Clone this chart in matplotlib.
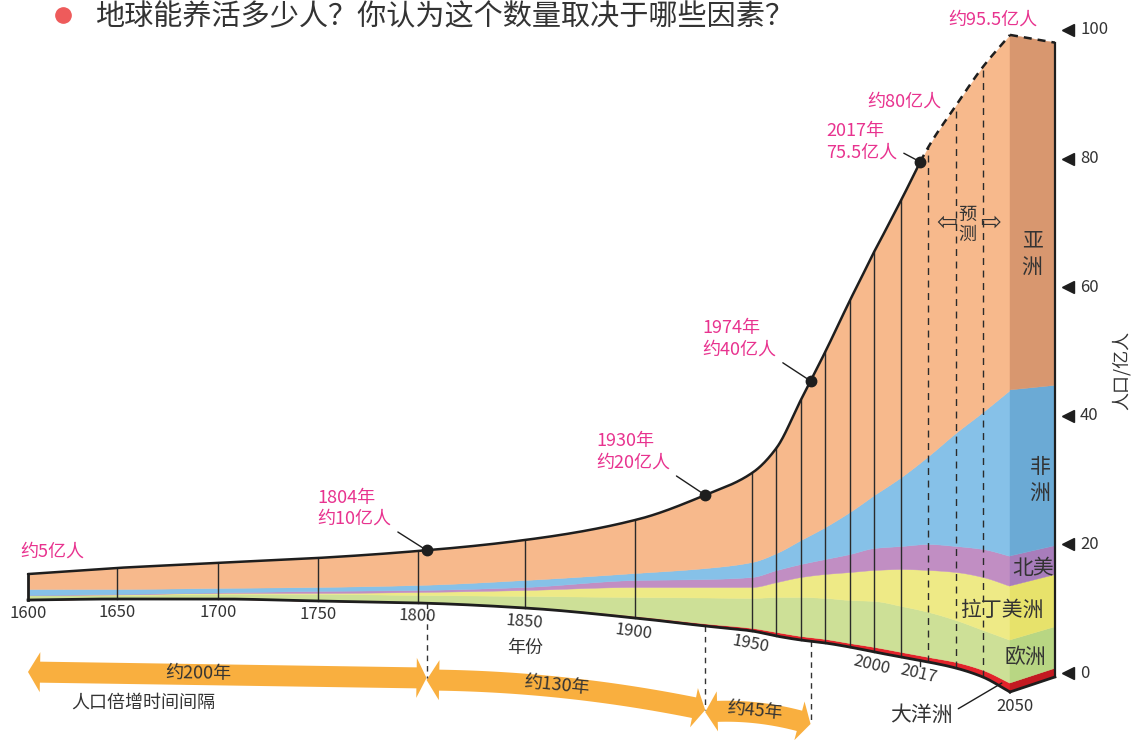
import numpy as np
import matplotlib
matplotlib.use("Agg")
import matplotlib.pyplot as plt
from matplotlib.patches import Polygon

plt.rcParams['font.family'] = ['Noto Sans CJK SC', 'DejaVu Sans']

# ---------------- data (axis units = 亿人) ----------------
years = [1600, 1650, 1700, 1750, 1800, 1850, 1900, 1930, 1950, 1960, 1970,
         1980, 1990, 2000, 2010, 2020, 2030, 2040, 2050]
# perspective baseline of the drawing (bottom edge of the stack)
baseline = [11.35, 11.51, 11.51, 11.20, 10.89, 10.11, 8.55, 7.31, 6.53, 5.75, 5.13,
            4.67, 4.04, 3.27, 2.49, 1.71, 0.78, -0.62, -2.95]
oceania = [0, 0, 0, 0, 0, 0.16, 0.31, 0.39, 0.47, 0.62, 0.62,
           0.62, 0.62, 0.78, 0.78, 0.78, 0.93, 1.09, 1.40]
europe = [0.78, 0.62, 0.78, 1.09, 1.24, 1.71, 2.95, 4.04, 4.67, 5.44, 6.07,
          6.38, 6.69, 7.15, 7.15, 7.00, 6.53, 6.22, 6.69]
latam = [0.0, 0.08, 0.16, 0.16, 0.47, 0.93, 1.56, 1.63, 1.71, 2.33, 3.11,
         3.73, 4.35, 4.82, 5.75, 6.53, 7.47, 8.24, 8.40]
namerica = [0.0, 0.08, 0.08, 0.31, 0.31, 0.47, 1.09, 1.24, 1.56, 1.87, 2.02,
            2.33, 2.80, 3.42, 3.58, 4.04, 4.04, 4.35, 4.67]
africa = [0.93, 0.78, 0.70, 0.62, 0.78, 1.09, 1.09, 1.71, 2.33, 2.64, 3.73,
          4.98, 6.53, 8.24, 10.73, 13.69, 17.57, 21.31, 25.82]
asia = [2.33, 3.27, 3.89, 4.51, 5.29, 6.22, 8.24, 11.35, 13.84, 16.33, 21.77,
        27.22, 32.81, 37.79, 43.08, 48.06, 50.86, 53.65, 55.21]

region_names = ['大洋洲', '欧洲', '拉丁美洲', '北美', '非洲', '亚洲']   # bottom -> top
tick_years = [1600, 1650, 1700, 1750, 1800, 1850, 1900, 1950, 2000, 2017]
grid_years = [1650, 1700, 1750, 1800, 1850, 1900, 1950, 1960, 1970, 1980, 1990, 2000, 2010]
forecast_years = [2020, 2030, 2040]
milestone_years = [1804, 1930, 1974, 2017]
milestone_labels = ['1804年\n约10亿人', '1930年\n约20亿人', '1974年\n约40亿人', '2017年\n75.5亿人']
doubling_spans = [(1600, 1804), (1804, 1930), (1930, 1974)]
doubling_labels = ['约200年', '约130年', '约45年']
yticks = [0, 20, 40, 60, 80, 100]
title = '地球能养活多少人？你认为这个数量取决于哪些因素？'

# ---------------- styles ----------------
front_cols = ['#E3232B', '#CDE097', '#EEEA86', '#C18EC3', '#86C1E8', '#F7B98C']
side_cols = ['#C31A21', '#B8D683', '#E7E26B', '#A87DBB', '#6BAAD5', '#D8976F']
PINK = '#E8338F'
DARK = '#333333'
ORANGE = '#F9AF3F'

# nonlinear year axis of the illustration
YR_BP = np.array([1300, 1600, 1650, 1700, 1750, 1800, 1850, 1900, 1950, 2000, 2050, 2300], float)
PX_BP = np.array([-506, 28, 117, 218, 318, 418, 525, 635, 752, 874, 1010, 1690], float)


def fwd(x):
    return np.interp(x, YR_BP, PX_BP)


def inv(p):
    return np.interp(p, PX_BP, YR_BP)


U, Y0 = 6.43, 673.0          # px per unit, pixel row of value 0
SIDE_D = 16.5                # depth of the 3D end face (in axis years)
SIDE_A, SIDE_B = 2.23, 0.9654


def pchip(x, y, xn):
    x = np.asarray(x, float)
    y = np.asarray(y, float)
    h = np.diff(x)
    d = np.diff(y) / h
    m = np.zeros_like(y)
    for k in range(1, len(x) - 1):
        if d[k - 1] * d[k] > 0:
            w1 = 2 * h[k] + h[k - 1]
            w2 = h[k] + 2 * h[k - 1]
            m[k] = (w1 + w2) / (w1 / d[k - 1] + w2 / d[k])
    m[0], m[-1] = d[0], d[-1]
    idx = np.clip(np.searchsorted(x, xn) - 1, 0, len(h) - 1)
    t = (xn - x[idx]) / h[idx]
    h00 = 2 * t**3 - 3 * t**2 + 1
    h10 = t**3 - 2 * t**2 + t
    h01 = -2 * t**3 + 3 * t**2
    h11 = t**3 - t**2
    return h00 * y[idx] + h10 * h[idx] * m[idx] + h01 * y[idx + 1] + h11 * h[idx] * m[idx + 1]


fig = plt.figure(figsize=(11.33, 7.40), dpi=100)
ax = fig.add_axes([0, 0, 1, 1])
ax.set_xscale('function', functions=(fwd, inv))
ax.set_xlim(inv(0.0), inv(1133.0))
ax.set_ylim((Y0 - 740) / U, Y0 / U)
ax.axis('off')

# ---------------- stacked front face ----------------
yg = np.linspace(years[0], years[-1], 1201)
layers = [oceania, europe, latam, namerica, africa, asia]
cum_knots = np.vstack([np.array(baseline)] +
                      [np.array(baseline) + np.sum(layers[:i + 1], axis=0) for i in range(len(layers))])
bounds = [pchip(years, row, yg) for row in cum_knots]
for i in range(1, len(bounds)):
    bounds[i] = np.maximum(bounds[i], bounds[i - 1])
base_line = bounds[0]
top_line = bounds[-1]
for i, c in enumerate(front_cols):
    ax.fill_between(yg, bounds[i], bounds[i + 1], facecolor=c, edgecolor=c, lw=0.3, zorder=1)


def at(arr, yr):
    return float(np.interp(yr, yg, arr))


# ---------------- 3D end face ----------------
x_end = years[-1]
x_side = x_end + SIDE_D
cum = cum_knots[:, -1]
for i, c in enumerate(side_cols):
    l, h = cum[i], cum[i + 1]
    poly = Polygon([(x_end, l), (x_side, SIDE_A + SIDE_B * l),
                    (x_side, SIDE_A + SIDE_B * h), (x_end, h)],
                   closed=True, fc=c, ec=c, lw=0.3, zorder=1)
    ax.add_patch(poly)

# outline
m = yg <= 2017
ax.plot(yg[m], top_line[m], color='#1E1E1E', lw=1.8, zorder=3, solid_capstyle='round')
mf = yg >= 2016.9
ax.plot(yg[mf], top_line[mf], color='#1E1E1E', lw=1.8, dashes=(3.2, 2.4), zorder=3)
ax.plot([x_end, x_side], [cum[-1], SIDE_A + SIDE_B * cum[-1]], color='#1E1E1E', lw=1.8,
        dashes=(3.2, 2.4), zorder=3)
ax.plot(yg, base_line, color='#1E1E1E', lw=2.0, zorder=3)
ax.plot([x_end, x_side], [cum[0], SIDE_A + SIDE_B * cum[0]], color='#1E1E1E', lw=2.0, zorder=3)
ax.plot([x_side, x_side], [SIDE_A + SIDE_B * cum[0], SIDE_A + SIDE_B * cum[-1]],
        color='#1E1E1E', lw=1.6, zorder=3)
ax.plot([years[0], years[0]], [baseline[0], top_line[0]], color='#1E1E1E', lw=2.0, zorder=3)

# vertical grid lines
for yr in grid_years:
    ax.plot([yr, yr], [at(base_line, yr), at(top_line, yr)], color='#2A2A2A', lw=1.0, zorder=2)
for yr in forecast_years:
    ax.plot([yr, yr], [at(base_line, yr), at(top_line, yr)], color='#2A2A2A', lw=1.0,
            dashes=(5, 4), zorder=2)
ax.plot([2017, 2017], [at(base_line, 2017), at(base_line, 2017) - 0.9], color='#2A2A2A', lw=1.0, zorder=2)

# ---------------- x tick labels along the curved base ----------------
def base_angle(yr):
    p0 = ax.transData.transform((yr - 2, at(base_line, yr - 2)))
    p1 = ax.transData.transform((yr + 2, at(base_line, yr + 2)))
    return np.degrees(np.arctan2(p1[1] - p0[1], p1[0] - p0[0]))


for yr in tick_years:
    ang = base_angle(yr) if yr > 1760 else 0.0
    ax.annotate(str(yr), xy=(yr, at(base_line, yr)), xytext=(0, -5), textcoords='offset pixels',
                ha='center', va='top', rotation=ang * 1.25, rotation_mode='anchor',
                fontsize=12, color=DARK, zorder=5)
ax.annotate('2050', xy=(x_end, baseline[-1]), xytext=(5, -6), textcoords='offset pixels',
            ha='center', va='top', fontsize=12, color=DARK, zorder=5)
ax.annotate('年份', xy=(1850, at(base_line, 1850)), xytext=(0, -40), textcoords='offset pixels',
            ha='center', va='center', fontsize=13, color=DARK)

# ---------------- milestones ----------------
offs = [(-109, 42), (-109, 43), (-108, 42), (-94, 20)]
rels = [(1.0, 0.0), (1.0, 0.0), (1.0, 0.0), (1.0, 0.3)]
for yr, lab, (dx, dy), rp in zip(milestone_years, milestone_labels, offs, rels):
    yv = at(top_line, yr)
    ax.plot(yr, yv, 'o', color='#1E1E1E', ms=7.5, zorder=4)
    ax.annotate(lab, xy=(yr, yv), xytext=(dx, dy), textcoords='offset pixels',
                ha='left', va='center', fontsize=13, color=PINK, linespacing=1.25,
                arrowprops=dict(arrowstyle='-', color='#1E1E1E', lw=1.0, relpos=rp,
                                shrinkA=3, shrinkB=3), zorder=5)

ax.annotate('约5亿人', xy=(years[0], top_line[0]), xytext=(-8, 22), textcoords='offset pixels',
            ha='left', va='center', fontsize=13, color=PINK)
ax.annotate('约80亿人', xy=(2020, at(top_line, 2020)), xytext=(-61, 45), textcoords='offset pixels',
            ha='left', va='center', fontsize=13, color=PINK)
ax.annotate('约95.5亿人', xy=(x_end, top_line[-1]), xytext=(-62, 15), textcoords='offset pixels',
            ha='left', va='center', fontsize=13, color=PINK)

# forecast marker
ax.text(2034.4, 69.7, '预\n测', ha='center', va='center', fontsize=13, color=DARK, linespacing=1.15)
ax.text(2026.6, 70.1, '⇦', ha='center', va='center', fontsize=18, color=DARK, family='DejaVu Sans')
ax.text(2042.8, 70.1, '⇨', ha='center', va='center', fontsize=18, color=DARK, family='DejaVu Sans')

# region labels on the end face
ax.text(2058.1, 65.2, '亚\n洲', ha='center', va='center', fontsize=15, color=DARK, linespacing=1.25)
ax.text(2061.0, 30.0, '非\n洲', ha='center', va='center', fontsize=15, color=DARK, linespacing=1.25)
ax.text(2058.5, 16.3, '北美', ha='center', va='center', fontsize=15, color=DARK)
ax.text(2047.1, 9.8, '拉丁美洲', ha='center', va='center', fontsize=15, color=DARK)
ax.text(2055.5, 2.5, '欧洲', ha='center', va='center', fontsize=15, color=DARK)
oc_mid = 0.5 * (at(bounds[0], 2047) + at(bounds[1], 2047))
ax.annotate('大洋洲', xy=(2047, oc_mid), xytext=(-80, -32), textcoords='offset pixels',
            ha='center', va='center', fontsize=15, color=DARK,
            arrowprops=dict(arrowstyle='-', color='#1E1E1E', lw=1.0, relpos=(1.0, 0.65),
                            shrinkA=2, shrinkB=0))

# ---------------- doubling-time arrows ----------------
arrow_levels = [(0.16, -0.78, 0.0, 0.43), (-1.09, -5.75, 7.0, 0.47), (-6.07, -7.93, 5.0, 0.47)]


def band_arrow(x0, y0, x1, y1, bulge, body=10.5, head=20.0, hlen=12.0):
    T = ax.transData
    p0 = T.transform((x0, y0))
    p1 = T.transform((x1, y1))
    t = np.linspace(0, 1, 200)
    cx = p0[0] + (p1[0] - p0[0]) * t
    cy = p0[1] + (p1[1] - p0[1]) * t + bulge * 4 * t * (1 - t)
    dx, dy = np.gradient(cx), np.gradient(cy)
    n = np.hypot(dx, dy)
    nx, ny = -dy / n, dx / n
    s = np.concatenate([[0], np.cumsum(np.hypot(np.diff(cx), np.diff(cy)))])
    L = s[-1]
    i0 = np.searchsorted(s, hlen)
    i1 = np.searchsorted(s, L - hlen)
    seg = slice(i0, i1 + 1)
    up = np.column_stack([cx[seg] + nx[seg] * body, cy[seg] + ny[seg] * body])
    dn = np.column_stack([cx[seg] - nx[seg] * body, cy[seg] - ny[seg] * body])[::-1]
    rh = [(cx[i1] + nx[i1] * head, cy[i1] + ny[i1] * head), (cx[-1], cy[-1]),
          (cx[i1] - nx[i1] * head, cy[i1] - ny[i1] * head)]
    lh = [(cx[i0] - nx[i0] * head, cy[i0] - ny[i0] * head), (cx[0], cy[0]),
          (cx[i0] + nx[i0] * head, cy[i0] + ny[i0] * head)]
    pts = np.vstack([up, rh, dn, lh])
    data_pts = T.inverted().transform(pts)
    ax.add_patch(Polygon(data_pts, closed=True, fc=ORANGE, ec='none', zorder=2))
    return cx, cy


for (x0, x1), lab, (ya, yb, bulge, tf) in zip(doubling_spans, doubling_labels, arrow_levels):
    cx, cy = band_arrow(x0, ya, x1, yb, bulge)
    k = int(tf * (len(cx) - 1))
    ang = np.degrees(np.arctan2(cy[k + 1] - cy[k - 1], cx[k + 1] - cx[k - 1]))
    tx, ty = ax.transData.inverted().transform((cx[k], cy[k] + 1.5))
    ax.text(tx, ty, lab, ha='center', va='center', rotation=ang, rotation_mode='anchor',
            fontsize=13, color=DARK, zorder=5)

# dashed drops from the doubling years to the arrows
for (x0, x1), (ya, yb, bulge, tf) in zip(doubling_spans, arrow_levels):
    ax.plot([x1, x1], [at(base_line, x1), yb], color=DARK, lw=1.0, dashes=(4, 3.5), zorder=2)

ax.text(1663, -4.67, '人口倍增时间间隔', ha='center', va='center', fontsize=13, color=DARK)

# ---------------- right value axis ----------------
ytr = ax.get_yaxis_transform()
for t in yticks:
    ax.plot([1068 / 1133], [t], marker='<', color='#1E1E1E', ms=9, transform=ytr, clip_on=False)
    ax.text(1080 / 1133, t, str(t), transform=ytr, va='center', ha='left', fontsize=12, color=DARK)
fig.text(1121 / 1133, 1 - 370 / 740, '人口/亿人', rotation=90, ha='center', va='center',
         fontsize=13, color=DARK)

# ---------------- title ----------------
ax.plot([63 / 1133], [1 - 15 / 740], 'o', color='#EE5B5B', ms=11, transform=fig.transFigure,
        clip_on=False)
fig.text(95 / 1133, 1 - 17 / 740, title, ha='left', va='center', fontsize=21, color=DARK)

fig.savefig('out.png', dpi=100)
